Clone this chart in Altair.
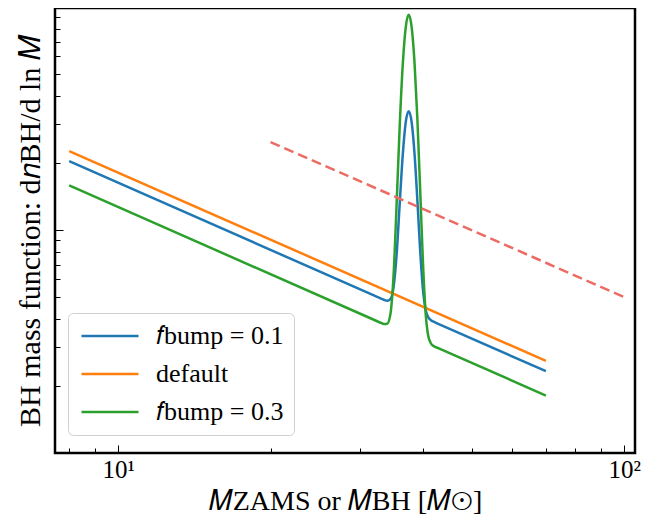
import altair as alt
import pandas as pd

FONT = "Liberation Serif"

series_names = ["𝑓bump = 0.1", "default", "𝑓bump = 0.3"]
series_colors = ["#1f77b4", "#ff7f0e", "#2ca02c"]

# default power law
M_default = [8, 70]
y_default = [2.26, 0.259]

# f_bump = 0.1 (blue) and f_bump = 0.3 (green) share these masses
M_bump = [8, 32, 33.0, 33.5, 34.0, 34.5, 35.0, 35.5, 36.0, 36.5, 37.0, 37.5,
          38.0, 38.5, 39.0, 39.5, 40.0, 40.5, 41.0, 41.5, 42.0, 43, 70]
y_blue = [2.036, 0.509, 0.4936, 0.4865, 0.4815, 0.4896, 0.554, 0.782, 1.32, 2.18, 3.05, 3.41,
          3.05, 2.21, 1.37, 0.817, 0.544, 0.4395, 0.4056, 0.394, 0.3879, 0.3788, 0.2327]
y_green = [1.584, 0.3959, 0.3839, 0.3789, 0.3799, 0.419, 0.625, 1.32, 2.95, 5.53, 8.13, 9.24,
           8.15, 5.66, 3.18, 1.53, 0.725, 0.4241, 0.3337, 0.3098, 0.3017, 0.2947, 0.1810]

# dashed reference line
M_dash = [20, 100]
y_dash = [2.48, 0.50]

x_ticks = [8, 9, 10, 20, 30, 40, 50, 60, 70, 80, 90, 100]
x_labels = [10, 100]
y_ticks = [0.2, 0.3, 0.4, 0.5, 0.6, 0.7, 0.8, 0.9, 1, 2, 3, 4, 5, 6, 7, 8, 9]

rows = []
for m, v in zip(M_bump, y_blue):
    rows.append({"M": m, "value": v, "series": series_names[0]})
for m, v in zip(M_default, y_default):
    rows.append({"M": m, "value": v, "series": series_names[1]})
for m, v in zip(M_bump, y_green):
    rows.append({"M": m, "value": v, "series": series_names[2]})
df = pd.DataFrame(rows)
df_dash = pd.DataFrame({"M": M_dash, "value": y_dash})

W, H = 580, 445

x_scale = alt.Scale(type="log", domain=[7.5, 105], nice=False)
y_scale = alt.Scale(type="log", domain=[0.1, 9.9], nice=False)

lines = alt.Chart(df).mark_line(strokeWidth=2.5, interpolate="monotone").encode(
    x=alt.X("M:Q", scale=x_scale,
            axis=alt.Axis(orient="bottom", values=x_labels,
                          labelExpr="datum.value == 10 ? '10¹' : '10²'",
                          ticks=False, domain=False, grid=False,
                          labelFont=FONT, labelFontSize=25, labelColor="black",
                          labelPadding=4,
                          title="𝑀ZAMS or 𝑀BH [𝑀⊙]", titleFont=FONT,
                          titleFontSize=28, titleFontWeight="normal",
                          titleColor="black", titlePadding=5)),
    y=alt.Y("value:Q", scale=y_scale,
            axis=alt.Axis(orient="left", ticks=False, labels=False, domain=False,
                          grid=False,
                          title="BH mass function: d𝑛BH/d ln 𝑀", titleFont=FONT,
                          titleFontSize=30, titleFontWeight="normal",
                          titleColor="black", titlePadding=10)),
    color=alt.Color("series:N",
                    scale=alt.Scale(domain=series_names, range=series_colors),
                    sort=series_names,
                    legend=alt.Legend(title=None, orient="none", legendX=13, legendY=305,
                                      fillColor="white", strokeColor="#d0d0d0",
                                      cornerRadius=5, padding=10,
                                      symbolType="M-1,0H5", symbolSize=361,
                                      symbolStrokeWidth=2.5,
                                      labelFont=FONT, labelFontSize=26,
                                      labelColor="black", labelOffset=52,
                                      rowPadding=12)),
)

dashed = alt.Chart(df_dash).mark_line(strokeWidth=2.5, color="#ec6b63",
                                      strokeDash=[10, 5]).encode(
    x=alt.X("M:Q", scale=x_scale,
            axis=alt.Axis(orient="top", offset=-H, values=x_ticks, labels=False,
                          domain=False, grid=False, title=None,
                          tickColor="black", tickWidth=1,
                          tickSize={"condition": {"test": "datum.value == 10 || datum.value == 100",
                                                  "value": 8}, "value": 5})),
    y=alt.Y("value:Q", scale=y_scale,
            axis=alt.Axis(orient="right", offset=-W, values=y_ticks, labels=False,
                          domain=False, grid=False, title=None,
                          tickColor="black", tickWidth=1,
                          tickSize={"condition": {"test": "datum.value == 1",
                                                  "value": 8}, "value": 5})),
)

chart = alt.layer(lines, dashed).resolve_axis(
    x="independent", y="independent"
).properties(
    width=W, height=H,
    autosize=alt.AutoSizeParams(type="none"),
    padding={"left": 47, "top": 0, "right": 10, "bottom": 62},
).configure_view(stroke="black", strokeWidth=2.5)

chart.save("out.html", embed_options={"renderer": "svg", "actions": False})
